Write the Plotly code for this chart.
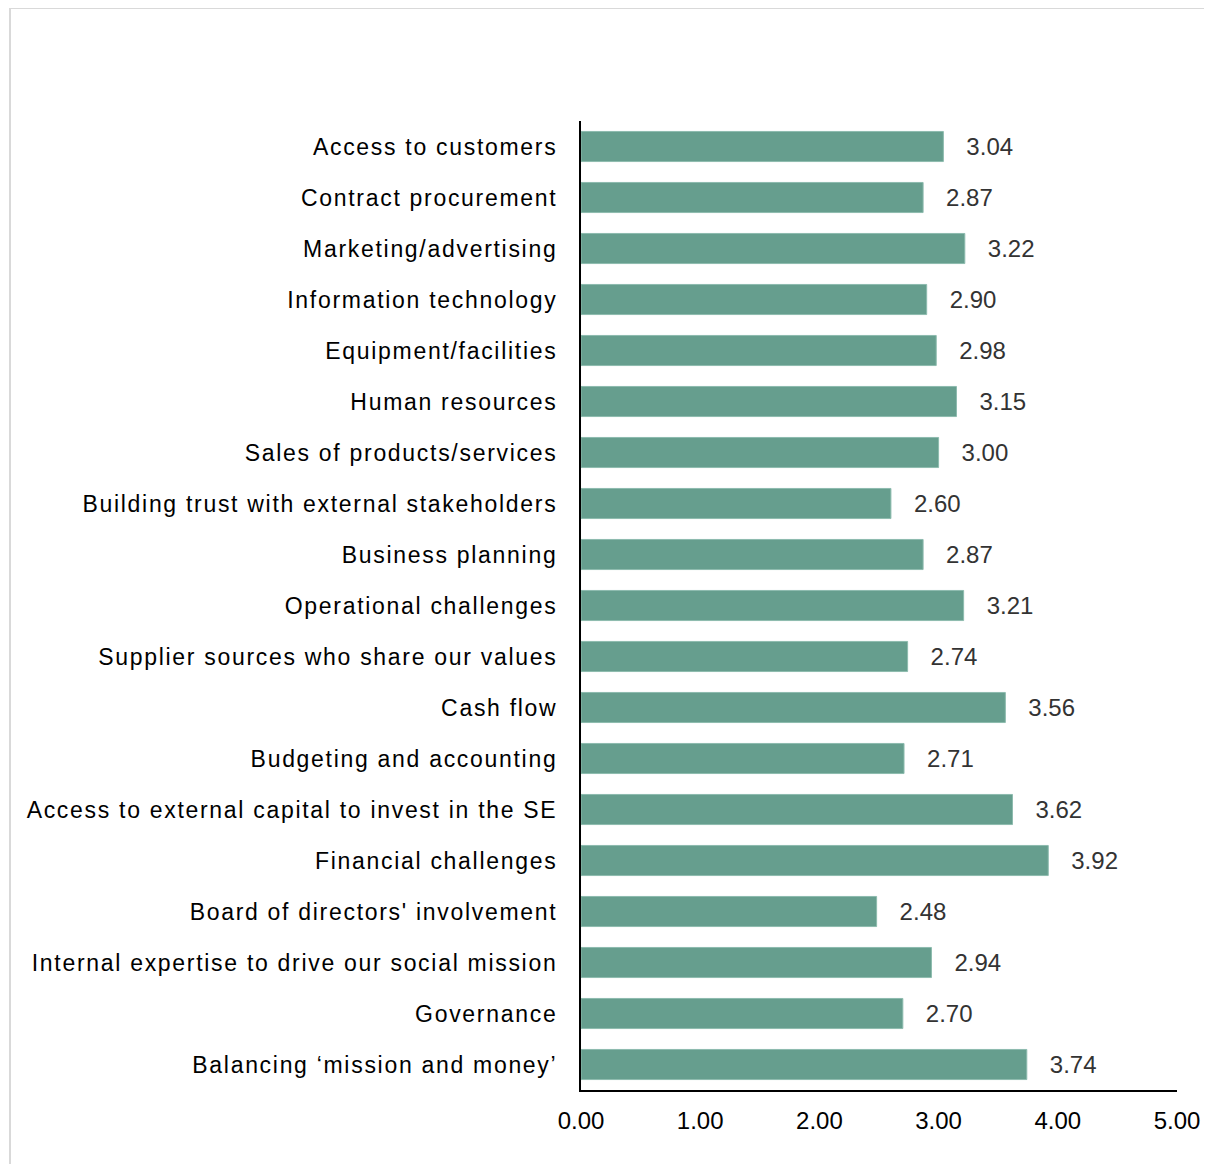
import plotly.graph_objects as go

categories = [
    "Access to customers",
    "Contract procurement",
    "Marketing/advertising",
    "Information technology",
    "Equipment/facilities",
    "Human resources",
    "Sales of products/services",
    "Building trust with external stakeholders",
    "Business planning",
    "Operational challenges",
    "Supplier sources who share our values",
    "Cash flow",
    "Budgeting and accounting",
    "Access to external capital to invest in the SE",
    "Financial challenges",
    "Board of directors' involvement",
    "Internal expertise to drive our social mission",
    "Governance",
    "Balancing \u2018mission and money\u2019",
]
values = [3.04, 2.87, 3.22, 2.90, 2.98, 3.15, 3.00, 2.60, 2.87, 3.21,
          2.74, 3.56, 2.71, 3.62, 3.92, 2.48, 2.94, 2.70, 3.74]
tick_vals = [0, 1, 2, 3, 4, 5]
tick_text = ["0.00", "1.00", "2.00", "3.00", "4.00", "5.00"]

FONT = "Liberation Sans, Arial, sans-serif"

# figure sits at (8, 8) in the page
W, H = 1204, 1156
L, R, T, B = 573, 35, 113, 74
pw = W - L - R
ph = H - T - B

fig = go.Figure()
fig.add_trace(go.Bar(
    y=categories,
    x=values,
    orientation="h",
    marker=dict(color="#669E8E", line=dict(color="#8DBBAE", width=1)),
    width=0.59,
    text=["   " + f"{v:.2f}" for v in values],
    textposition="outside",
    textfont=dict(family=FONT, size=24, color="#333333"),
    cliponaxis=False,
    hoverinfo="skip",
))

fig.update_layout(
    width=W,
    height=H,
    margin=dict(l=L, r=R, t=T, b=B),
    paper_bgcolor="white",
    plot_bgcolor="white",
    showlegend=False,
    font=dict(family=FONT, size=23, color="black"),
    xaxis=dict(
        range=[0, 5],
        tickvals=tick_vals,
        ticktext=tick_text,
        showgrid=False,
        zeroline=False,
        showline=True,
        linecolor="black",
        linewidth=2,
        ticks="",
        ticklabelstandoff=8,
        tickfont=dict(family=FONT, size=24, color="black"),
    ),
    yaxis=dict(
        categoryorder="array",
        categoryarray=categories,
        tickvals=categories,
        ticktext=['<span style="letter-spacing:1.7px">' + c + '</span>' for c in categories],
        autorange="reversed",
        showgrid=False,
        zeroline=False,
        showline=True,
        linecolor="black",
        linewidth=2,
        ticks="",
        ticklabelstandoff=17,
        tickfont=dict(family=FONT, size=23, color="black"),
    ),
    shapes=[dict(
        type="rect", xref="paper", yref="paper",
        x0=(2 - L) / pw, x1=(W + 20 - L) / pw,
        y0=-(B + 20) / ph, y1=(ph + T) / ph,
        line=dict(color="#D9D9D9", width=2),
        fillcolor="rgba(0,0,0,0)",
        layer="below",
    )],
)

fig.write_html("out.html")
